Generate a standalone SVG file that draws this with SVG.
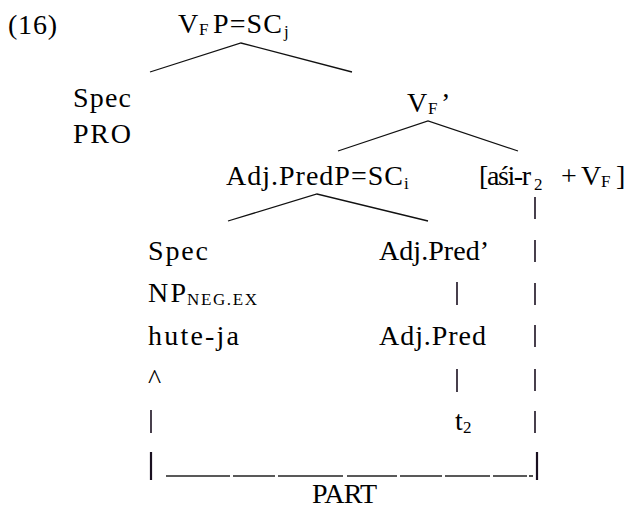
<svg xmlns="http://www.w3.org/2000/svg" width="635" height="509" viewBox="0 0 635 509">
  <style>
    text { font-family: 'Liberation Serif', 'Times New Roman', serif; font-size: 28px; fill: #000; }
    .sub { font-size: 17px; }
    .branch { stroke: #111; stroke-width: 1.3; fill: none; }
    .bar { stroke: #1a1020; stroke-width: 1.6; }
    .bar-strong { stroke: #1a1020; stroke-width: 2.2; }
    .rule { stroke: #222; stroke-width: 1.6; }
  </style>
  <rect width="635" height="509" fill="#fff"/>

  <!-- example number -->
  <g id="ex-number">
    <text x="8" y="34" textLength="49" lengthAdjust="spacing">(16)</text>
  </g>

  <!-- tree nodes -->
  <g id="vfp">
    <text x="178" y="33">V</text>
    <text class="sub" x="199" y="35">F</text>
    <text x="213" y="33" textLength="69" lengthAdjust="spacing">P=SC</text>
    <text class="sub" x="284" y="37">j</text>
  </g>

  <g id="spec-pro">
    <text x="73" y="107" textLength="58" lengthAdjust="spacing">Spec</text>
    <text x="73" y="143" textLength="58" lengthAdjust="spacing">PRO</text>
  </g>

  <g id="vf-bar">
    <text x="407" y="112">V</text>
    <text class="sub" x="428" y="114">F</text>
    <text x="441" y="112">’</text>
  </g>

  <g id="adjpredp">
    <text x="226" y="185" textLength="177" lengthAdjust="spacing">Adj.PredP=SC</text>
    <text class="sub" x="404" y="189">i</text>
  </g>

  <g id="complex-head">
    <text x="479" y="185" textLength="52" lengthAdjust="spacing">[aśi-r</text>
    <text class="sub" x="534" y="190">2</text>
    <text x="561" y="185">+</text>
    <text x="581" y="185">V</text>
    <text class="sub" x="601" y="187">F</text>
    <text x="616" y="185">]</text>
  </g>

  <g id="spec-np">
    <text x="148" y="260" textLength="60" lengthAdjust="spacing">Spec</text>
    <text x="148" y="302" textLength="38" lengthAdjust="spacing">NP</text>
    <text class="sub" x="187" y="305" textLength="70" lengthAdjust="spacing">NEG.EX</text>
    <text x="148" y="345" textLength="91" lengthAdjust="spacing">hute-ja</text>
    <text x="148" y="388">^</text>
  </g>

  <g id="adjpred-bar">
    <text x="379" y="260" textLength="110" lengthAdjust="spacing">Adj.Pred’</text>
  </g>

  <g id="adjpred">
    <text x="379" y="345" textLength="107" lengthAdjust="spacing">Adj.Pred</text>
  </g>

  <g id="trace">
    <text x="455" y="430">t</text>
    <text class="sub" x="463" y="433">2</text>
  </g>

  <g id="part">
    <text x="312" y="503" textLength="65" lengthAdjust="spacing">PART</text>
  </g>

  <!-- connectors -->
  <g id="connectors">
    <!-- branches -->
    <path class="branch" d="M150 72 L241 43 L352 72"/>
    <path class="branch" d="M338 151 L428 121 L518 151"/>
    <path class="branch" d="M228 221 L317 194 L428 221"/>

    <!-- head column under the complex head -->
    <line class="bar" x1="535" y1="197" x2="535" y2="219"/>
    <line class="bar" x1="535" y1="240" x2="535" y2="262"/>
    <line class="bar" x1="535" y1="283" x2="535" y2="305"/>
    <line class="bar" x1="535" y1="325" x2="535" y2="347"/>
    <line class="bar" x1="535" y1="369" x2="535" y2="391"/>
    <line class="bar" x1="535" y1="411" x2="535" y2="433"/>

    <!-- Adj.Pred column -->
    <line class="bar" x1="457" y1="282" x2="457" y2="305"/>
    <line class="bar" x1="457" y1="369" x2="457" y2="392"/>

    <!-- left column under hute-ja -->
    <line class="bar" x1="151" y1="410" x2="151" y2="433"/>
    <line class="bar-strong" x1="151" y1="452" x2="151" y2="480"/>
    <line class="bar-strong" x1="537" y1="452" x2="537" y2="480"/>

    <!-- bottom rule -->
    <line class="rule" x1="166" y1="476" x2="230" y2="476"/>
    <line class="rule" x1="233" y1="476" x2="275" y2="476"/>
    <line class="rule" x1="278" y1="476" x2="343" y2="476"/>
    <line class="rule" x1="347" y1="476" x2="397" y2="476"/>
    <line class="rule" x1="400" y1="476" x2="442" y2="476"/>
    <line class="rule" x1="445" y1="476" x2="490" y2="476"/>
    <line class="rule" x1="493" y1="476" x2="527" y2="476"/>
    <line class="rule" x1="529" y1="476" x2="533" y2="476"/>
  </g>
</svg>
